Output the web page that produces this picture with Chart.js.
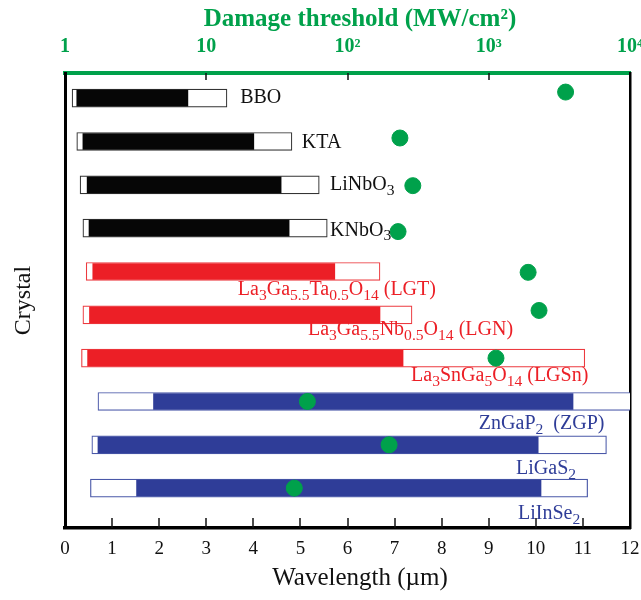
<!DOCTYPE html>
<html>
<head>
<meta charset="utf-8">
<script src="https://cdn.jsdelivr.net/npm/chart.js@4.4.0/dist/chart.umd.min.js"></script>
<style>
  html, body { margin: 0; padding: 0; background: #fff; }
  #wrap { width: 641px; height: 600px; position: relative; }
</style>
</head>
<body>
<div id="wrap"><canvas id="myChart"></canvas></div>
<script>
// crystals, top to bottom
const crystals = ["BBO", "KTA", "LiNbO3", "KNbO3", "LGT", "LGN", "LGSn", "ZGP", "LiGaS2", "LiInSe2"];
// label text, "_" marks a subscript
const crystalLabels = [
  "BBO", "KTA", "LiNbO_3", "KNbO_3",
  "La_3Ga_{5.5}Ta_{0.5}O_{14} (LGT)",
  "La_3Ga_{5.5}Nb_{0.5}O_{14} (LGN)",
  "La_3SnGa_5O_{14} (LGSn)",
  "ZnGaP_2  (ZGP)", "LiGaS_2", "LiInSe_2",
];
const families = ["oxide", "oxide", "oxide", "oxide", "langasite", "langasite", "langasite", "ir", "ir", "ir"];

// transparency range (um)
const transStart = [0.15, 0.25, 0.32, 0.38, 0.45, 0.38, 0.35, 0.70, 0.57, 0.54];
const transEnd = [3.44, 4.82, 5.40, 5.57, 6.69, 7.37, 11.04, 12.5, 11.5, 11.1];
// filled (usable) range (um)
const useStart = [0.25, 0.38, 0.47, 0.51, 0.59, 0.52, 0.48, 1.88, 0.70, 1.52];
const useEnd = [2.61, 4.01, 4.59, 4.76, 5.73, 6.69, 7.18, 10.79, 10.05, 10.11];
// damage threshold (MW/cm2), and where each dot sits relative to its row
const damage = [3500, 235, 290, 228, 1900, 2270, 1125, 52, 197, 42];
const damageRow = [-0.14, -0.08, 0.02, 0.08, 0.02, -0.1, 0, 0, 0, 0];

const topTickValues = [1, 10, 100, 1000, 10000];
const topTickLabels = ["1", "10", "10\u00b2", "10\u00b3", "10\u2074"];

const familyFill = { oxide: "#060606", langasite: "#ec1f26", ir: "#2f3d98" };
const familyLine = { oxide: "#333333", langasite: "#ec3a3f", ir: "#4a58a8" };
const green = "#00a14b";
const serif = "'Liberation Serif', 'Times New Roman', serif";

// label placement: start (um), vertical shift (rows)
const labelLayout = [
  [3.72, 0], [5.03, 0.02], [5.63, 0], [5.63, 0.05],
  [3.67, 0.42], [5.16, 0.35], [7.35, 0.4],
  [8.79, 0.52], [9.58, 0.55], [9.62, 0.6],
];

function parseRich(str) {
  const parts = [];
  let buf = "";
  let i = 0;
  while (i < str.length) {
    if (str[i] === "_") {
      if (buf) { parts.push({ t: buf, sub: false }); buf = ""; }
      let s;
      if (str[i + 1] === "{") {
        const j = str.indexOf("}", i);
        s = str.slice(i + 2, j);
        i = j + 1;
      } else {
        s = str[i + 1];
        i += 2;
      }
      parts.push({ t: s, sub: true });
    } else {
      buf += str[i];
      i++;
    }
  }
  if (buf) parts.push({ t: buf, sub: false });
  return parts;
}

function drawRich(ctx, str, x, y, size, color) {
  const parts = parseRich(str);
  ctx.fillStyle = color;
  ctx.textAlign = "left";
  ctx.textBaseline = "middle";
  let cx = x;
  parts.forEach(p => {
    const fs = p.sub ? size * 0.78 : size;
    ctx.font = fs + "px " + serif;
    ctx.fillText(p.t, cx, p.sub ? y + size * 0.3 : y);
    cx += ctx.measureText(p.t).width;
  });
}

const crystalText = {
  id: "crystalText",
  afterDatasetsDraw(chart) {
    const { ctx, scales } = chart;
    ctx.save();
    crystalLabels.forEach((lab, i) => {
      const [ux, dy] = labelLayout[i];
      const px = scales.x.getPixelForValue(ux);
      const py = scales.y.getPixelForValue(i + dy);
      const col = families[i] === "oxide" ? "#111" : familyFill[families[i]];
      drawRich(ctx, lab, px, py, 20, col);
    });
    ctx.restore();
  },
};

const innerTicks = {
  id: "innerTicks",
  afterDatasetsDraw(chart) {
    const { ctx, chartArea, scales } = chart;
    ctx.save();
    ctx.strokeStyle = "#111";
    ctx.lineWidth = 1.5;
    scales.x.ticks.forEach(t => {
      if (t.value <= scales.x.min || t.value >= scales.x.max) return;
      const px = Math.round(scales.x.getPixelForValue(t.value));
      ctx.beginPath();
      ctx.moveTo(px, chartArea.bottom);
      ctx.lineTo(px, chartArea.bottom - 10);
      ctx.stroke();
    });
    scales.x2.ticks.forEach(t => {
      if (t.value <= scales.x2.min || t.value >= scales.x2.max) return;
      const px = Math.round(scales.x2.getPixelForValue(t.value));
      ctx.beginPath();
      ctx.moveTo(px, chartArea.top);
      ctx.lineTo(px, chartArea.top + 7);
      ctx.stroke();
    });
    ctx.restore();
  },
};

const ctx = document.getElementById("myChart");

new Chart(ctx, {
  type: "bar",
  data: {
    datasets: [
      {
        type: "scatter",
        label: "Damage threshold",
        xAxisID: "x2",
        yAxisID: "y",
        data: damage.map((v, i) => ({ x: v, y: i + damageRow[i] })),
        backgroundColor: green,
        borderColor: green,
        pointRadius: 8,
        pointHoverRadius: 8,
        order: 1,
      },
      {
        label: "Usable range",
        indexAxis: "y",
        grouped: false,
        xAxisID: "x",
        yAxisID: "y",
        data: crystals.map((c, i) => ({ x: [useStart[i], useEnd[i]], y: i })),
        backgroundColor: families.map(f => familyFill[f]),
        borderWidth: 0,
        barThickness: 16,
        order: 2,
      },
      {
        label: "Transparency range",
        indexAxis: "y",
        grouped: false,
        xAxisID: "x",
        yAxisID: "y",
        data: crystals.map((c, i) => ({ x: [transStart[i], transEnd[i]], y: i })),
        backgroundColor: "#ffffff",
        borderColor: families.map(f => familyLine[f]),
        borderWidth: 1.2,
        borderSkipped: false,
        barThickness: 18,
        order: 3,
      },
    ],
  },
  options: {
    responsive: true,
    maintainAspectRatio: false,
    animation: false,
    layout: { padding: 0 },
    plugins: {
      legend: { display: false },
      tooltip: { enabled: false },
    },
    scales: {
      x: {
        type: "linear",
        position: "bottom",
        offset: false,
        min: 0,
        max: 12,
        grid: { offset: false, drawOnChartArea: false, drawTicks: false },
        border: { display: true, color: "#000", width: 3.5 },
        ticks: {
          stepSize: 1,
          autoSkip: false,
          maxRotation: 0,
          padding: 10,
          color: "#111",
          font: { family: serif, size: 19 },
        },
        title: {
          display: true,
          text: "\u2002\u2002Wavelength (\u00b5m)",
          color: "#111",
          font: { family: serif, size: 25 },
          padding: { bottom: 7 },
        },
        afterFit(s) { s.height = 72; s.paddingLeft = 0; s.paddingRight = 0; },
      },
      x2: {
        type: "logarithmic",
        position: "top",
        offset: false,
        min: 1,
        max: 10000,
        grid: { offset: false, drawOnChartArea: false, drawTicks: false },
        border: { display: true, color: green, width: 4 },
        afterBuildTicks(s) { s.ticks = topTickValues.map(v => ({ value: v })); },
        ticks: {
          autoSkip: false,
          maxRotation: 0,
          padding: 14,
          color: green,
          font: { family: serif, size: 20, weight: "bold" },
          callback: (v) => topTickLabels[topTickValues.indexOf(v)],
        },
        title: {
          display: true,
          text: "\u2002\u2002Damage threshold (MW/cm\u00b2)",
          color: green,
          font: { family: serif, size: 25, weight: "bold" },
          padding: { top: 5 },
        },
        afterFit(s) { s.height = 73; s.paddingLeft = 0; s.paddingRight = 0; },
      },
      y: {
        type: "linear",
        position: "left",
        offset: false,
        reverse: true,
        min: -0.58,
        max: 9.92,
        grid: { offset: false, drawOnChartArea: false, drawTicks: false },
        border: { display: true, color: "#000", width: 3 },
        ticks: { display: false },
        title: {
          display: true,
          text: "Crystal",
          color: "#111",
          font: { family: serif, size: 24 },
          padding: { top: 9 },
        },
        afterFit(s) { s.width = 65; },
      },
      y2: {
        type: "linear",
        position: "right",
        offset: false,
        grid: { drawOnChartArea: false, drawTicks: false },
        border: { display: true, color: "#000", width: 2.5 },
        ticks: { display: false },
        afterFit(s) { s.width = 11; },
      },
    },
  },
  plugins: [crystalText, innerTicks],
});
</script>
</body>
</html>
